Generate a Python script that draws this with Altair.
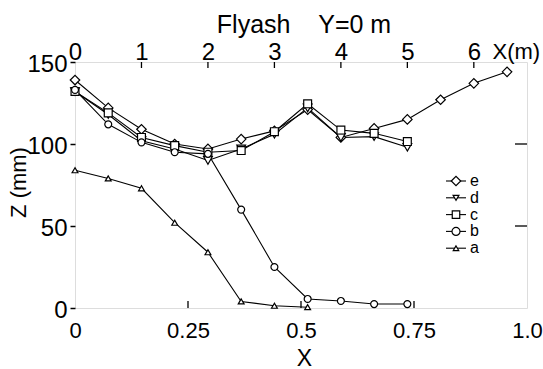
import altair as alt
import pandas as pd

# Horizontal stations along the flume (m)
X_M = [0.0, 0.5, 1.0, 1.5, 2.0, 2.5, 3.0, 3.5, 4.0, 4.5, 5.0, 5.5, 6.0, 6.5]

# Bed elevation Z (mm) for each run
Z_E = [139, 122, 109, 100, 97, 103, 108, 121, 104, 109.5, 115, 127, 137, 144]
Z_D = [132, 118, 102, 97, 90, 97, 106, 122, 104, 104.5, 98]
Z_C = [132, 119, 104, 99, 95, 96, 107.5, 124.5, 108.5, 106.5, 101.5]
Z_B = [133, 112, 101, 95, 94, 60, 25, 5.5, 4.3, 2.4, 2.4]
Z_A = [84, 79, 73, 52, 34, 4, 1.4, 0.5]

SERIES_NAMES = ["e", "d", "c", "b", "a"]
SERIES_VALUES = [Z_E, Z_D, Z_C, Z_B, Z_A]

X_FULL = 6.8  # X(m) at which the dimensionless X reaches 1.0
BOTTOM_LABELS = ["0", "0.25", "0.5", "0.75", "1.0"]
TOP_LABELS = [0, 1, 2, 3, 4, 5, 6]
Z_TICKS = [0, 50, 100, 150]

FONT = "Liberation Sans"
W, H = 452, 246

SHAPES = {"e": "diamond", "d": "triangle-down", "c": "square", "b": "circle", "a": "triangle-up"}
SIZES = {"e": 90, "d": 34, "c": 56, "b": 64, "a": 30}

rows = []
for name, zs in zip(SERIES_NAMES, SERIES_VALUES):
    for xm, z in zip(X_M, zs):
        rows.append({"series": name, "xm": xm, "z": z})
df = pd.DataFrame(rows)

x_scale = alt.Scale(domain=[0, X_FULL], nice=False, zero=False)
y_scale = alt.Scale(domain=[0, 150], nice=False)

bottom_vals = [X_FULL * i / 4 for i in range(5)]
label_list = "[" + ",".join("'%s'" % s for s in BOTTOM_LABELS) + "]"

bottom_axis = alt.Axis(
    values=bottom_vals,
    labelExpr=label_list + "[round(datum.value / %s)]" % (X_FULL / 4),
    ticks=False, tickSize=0, domain=False, grid=False,
    labelFont=FONT, labelFontSize=22, labelColor="black",
    labelPadding=12, labelBaseline="top", labelFlush=False, labelOverlap=False,
    title="X", titleFont=FONT, titleFontSize=23, titleFontWeight="normal",
    titleColor="black", titleX=229, titleY=57, titleBaseline="alphabetic",
    titleAlign="center",
)

top_axis = alt.Axis(
    orient="top", values=TOP_LABELS, format="d",
    ticks=False, tickSize=0, domain=False, grid=False,
    labelFont=FONT, labelFontSize=24, labelColor="black",
    labelPadding=3, labelBaseline="alphabetic", labelFlush=False, labelOverlap=False,
    title="X(m)", titleFont=FONT, titleFontSize=22, titleFontWeight="normal",
    titleColor="black", titleX=417, titleY=-4, titleAlign="left",
    titleBaseline="alphabetic", titleAngle=0,
)

left_axis = alt.Axis(
    values=Z_TICKS, ticks=True, tickSize=5, tickWidth=1.5, tickColor="black",
    domain=False, grid=False,
    labelFont=FONT, labelFontSize=24, labelColor="black",
    labelPadding=3, labelOffset=2, labelFlush=False, labelOverlap=False,
    title="Z (mm)", titleFont=FONT, titleFontSize=22, titleFontWeight="normal",
    titleColor="black", titleAngle=270, titleX=-50, titleY=120,
    titleAlign="center", titleBaseline="alphabetic",
)

lines = alt.Chart(df).mark_line(color="black", strokeWidth=1.1).encode(
    x=alt.X("xm:Q", scale=x_scale, axis=bottom_axis),
    y=alt.Y("z:Q", scale=y_scale, axis=left_axis),
    detail="series:N",
)

points = alt.Chart(df).mark_point(
    filled=True, fill="white", stroke="black", strokeWidth=1.2, opacity=1
).encode(
    x=alt.X("xm:Q", scale=x_scale, axis=top_axis),
    y=alt.Y("z:Q", scale=y_scale, axis=None),
    shape=alt.Shape("series:N", scale=alt.Scale(domain=SERIES_NAMES,
                    range=[SHAPES[s] for s in SERIES_NAMES]), legend=None),
    size=alt.Size("series:N", scale=alt.Scale(domain=SERIES_NAMES,
                  range=[SIZES[s] for s in SERIES_NAMES]), legend=None),
)

# inward-pointing ticks on the top, bottom and right frame edges
top_ticks = alt.Chart(pd.DataFrame({"v": TOP_LABELS[1:]})).mark_rule(
    color="black", strokeWidth=1.3).encode(
    x=alt.X("v:Q", scale=x_scale, axis=None), y=alt.value(0), y2=alt.value(6))
bottom_ticks = alt.Chart(pd.DataFrame({"v": bottom_vals[1:4]})).mark_rule(
    color="black", strokeWidth=1.3).encode(
    x=alt.X("v:Q", scale=x_scale, axis=None), y=alt.value(H), y2=alt.value(H - 7))
right_ticks = alt.Chart(pd.DataFrame({"v": Z_TICKS[1:3]})).mark_rule(
    color="black", strokeWidth=1.3).encode(
    y=alt.Y("v:Q", scale=y_scale, axis=None), x=alt.value(W), x2=alt.value(W - 12))

# key in the lower right of the plot
legend_layers = []
for i, name in enumerate(SERIES_NAMES):
    ry = 119 + 16.8 * i
    one = pd.DataFrame({"label": [name]})
    legend_layers.append(alt.Chart(one).mark_rule(color="black", strokeWidth=1.1).encode(
        x=alt.value(371), x2=alt.value(391), y=alt.value(ry)))
    legend_layers.append(alt.Chart(one).mark_point(
        filled=True, fill="white", stroke="black", strokeWidth=1.2, opacity=1).encode(
        x=alt.value(381), y=alt.value(ry), shape=alt.value(SHAPES[name]),
        size=alt.value(SIZES[name])))
    legend_layers.append(alt.Chart(one).mark_text(
        font=FONT, fontSize=16, color="black", align="left", baseline="middle").encode(
        x=alt.value(395), y=alt.value(ry), text="label:N"))

chart = alt.layer(
    lines, points, top_ticks, bottom_ticks, right_ticks, *legend_layers
).resolve_axis(
    x="independent", y="independent"
).properties(
    width=W, height=H,
    autosize=alt.AutoSizeParams(type="none"),
    padding={"left": 75, "top": 62, "right": 16, "bottom": 61},
    title=alt.TitleParams(
        text="Flyash\u00a0\u00a0\u00a0\u00a0Y=0 m", font=FONT, fontSize=25,
        fontWeight="normal", color="black", anchor="middle", offset=2, dx=3),
).configure_view(
    stroke="black", strokeWidth=2
).configure(background="white")

chart.save("out.html", embed_options={"renderer": "svg", "actions": False})
